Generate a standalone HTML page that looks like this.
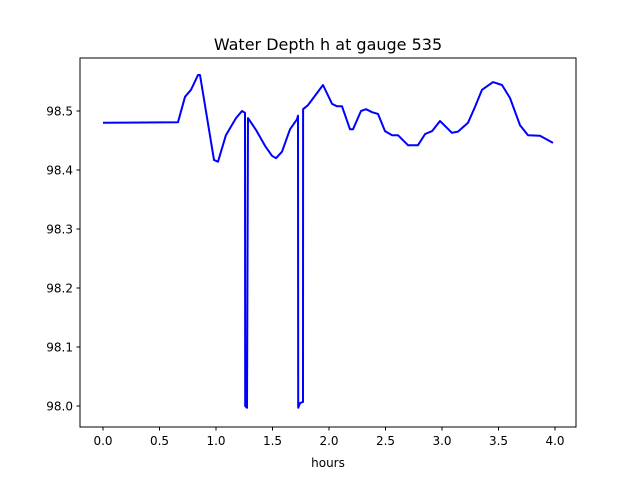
<!DOCTYPE html>
<html><head><meta charset="utf-8"><style>body{margin:0;background:#fff}svg{display:block;font-family:"DejaVu Sans","Liberation Sans",sans-serif}</style></head>
<body>
<svg id="chart" width="640" height="480">
<rect x="0" y="0" width="640" height="480" fill="#fff"/>
<text x="328" y="50" font-size="16" text-anchor="middle">Water Depth h at gauge 535</text>
<g id="plot"></g>
<rect x="80" y="58" width="496" height="369" fill="none" stroke="#000" stroke-width="1"/>
<text x="328" y="467" font-size="12" text-anchor="middle">hours</text>
</svg>
<script>
const hours = [0,0.664,0.726,0.779,0.841,0.858,0.982,1.018,1.088,1.177,1.230,1.257,1.258,1.274,1.283,1.354,1.434,1.496,1.531,1.584,1.655,1.717,1.726,1.727,1.743,1.77,1.771,1.814,1.947,2.027,2.071,2.115,2.186,2.212,2.283,2.327,2.381,2.434,2.496,2.558,2.611,2.699,2.788,2.850,2.912,2.982,3.088,3.142,3.230,3.292,3.354,3.451,3.531,3.602,3.690,3.761,3.867,3.982];
const depth = [98.480,98.481,98.524,98.536,98.561,98.561,98.417,98.414,98.459,98.488,98.500,98.497,98.000,97.997,98.488,98.468,98.441,98.424,98.420,98.431,98.469,98.486,98.492,97.997,98.005,98.007,98.503,98.510,98.544,98.512,98.508,98.508,98.469,98.469,98.500,98.503,98.498,98.495,98.466,98.459,98.459,98.442,98.442,98.461,98.466,98.483,98.463,98.465,98.480,98.507,98.536,98.549,98.544,98.522,98.476,98.459,98.458,98.446];
const xTicks = [0.0,0.5,1.0,1.5,2.0,2.5,3.0,3.5,4.0];
const xTickLabels = ["0.0","0.5","1.0","1.5","2.0","2.5","3.0","3.5","4.0"];
const yTicks = [98.0,98.1,98.2,98.3,98.4,98.5];
const yTickLabels = ["98.0","98.1","98.2","98.3","98.4","98.5"];
const sx = t => 103 + t*113;
const sy = v => 406 - (v-98.0)*590;
const NS="http://www.w3.org/2000/svg";
const g=document.getElementById('plot');
function mk(tag,attrs){const e=document.createElementNS(NS,tag);for(const k in attrs)e.setAttribute(k,attrs[k]);g.appendChild(e);return e;}
xTicks.forEach((t,i)=>{
  const l=mk('line',{x1:sx(t),x2:sx(t),y1:427,y2:430.5,stroke:'#000'});
  
  
  const tx=mk('text',{x:sx(t),y:445,'font-size':12,'text-anchor':'middle'});
  tx.textContent=xTickLabels[i];
  
  
});
yTicks.forEach((v,i)=>{
  const l=mk('line',{x1:76.5,x2:80,y1:sy(v),y2:sy(v),stroke:'#000'});
  
  
  const tx=mk('text',{x:73,y:sy(v)+4.5,'font-size':12,'text-anchor':'end'});
  tx.textContent=yTickLabels[i];
  
  
});
const pts=hours.map((t,i)=>sx(t).toFixed(1)+','+sy(depth[i]).toFixed(1)).join(' ');
const line=mk('polyline',{points:pts,fill:'none',stroke:'#0000ff','stroke-width':2,'stroke-linejoin':'round'});


</script>
</body></html>
